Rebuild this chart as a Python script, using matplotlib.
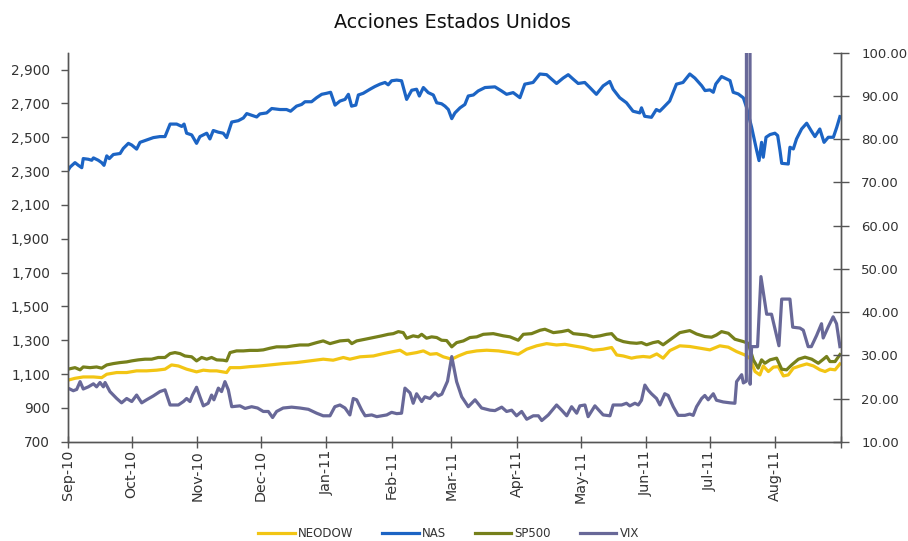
import numpy as np
import pandas as pd
import matplotlib
matplotlib.use("Agg")
import matplotlib.pyplot as plt
from matplotlib.ticker import FuncFormatter, FixedLocator, MultipleLocator

plt.rcParams['font.family'] = ['DejaVu Sans']

title = "Acciones Estados Unidos"
start_date = "2010-09-01"
end_date = "2011-09-01"
left_ticks = [700, 900, 1100, 1300, 1500, 1700, 1900, 2100, 2300, 2500, 2700, 2900]

# day offsets from start_date and values
nas_days = [0, 1, 3.3, 4.9, 6.5, 7.2, 9.6, 11.2, 12, 14.3, 15.9, 17, 18.3, 19.5, 21.4, 24.6, 26.1, 28.5, 30.1, 32.4,
            34, 37.1, 40.3, 43.4, 45.8, 48.2, 51.3, 53.7, 54.8, 56, 58.4, 60.7, 62.3, 65.5, 67, 68.6, 71, 73.3, 74.9,
            77.3, 80.4, 82.8, 84.4, 86.7, 89.1, 90.6, 93.8, 96.2, 100.1, 103.2, 105.1, 107.9, 110.3, 111.9, 115,
            117.4, 119.8, 122.1, 124, 126.1, 128.4, 130.8, 132.4, 133.9, 135.9, 137.1, 139.4, 142.6, 144.9, 147.3,
            149.7, 151.2, 152.8, 155.2, 157.5, 159.9, 162.3, 164.6, 165.9, 167.8, 170.1, 172.5, 174.1, 176.4, 178,
            179.6, 181.2, 182.7, 185.1, 187.4, 189, 191.4, 193.7, 196.9, 201.6, 204.7, 207.1, 210.2, 213.4, 215.7,
            219.6, 222.8, 226, 228.3, 230.7, 233.8, 236.2, 238.5, 240.9, 244, 246.4, 249.5, 252.7, 255.8, 257.4,
            260.5, 263.7, 266.8, 270, 270.8, 272.3, 275.5, 277.8, 279.4, 281, 284.1, 287.3, 290.4, 293.6, 296,
            299.2, 300.8, 303.1, 304.7, 305.9, 308.6, 311, 312.6, 314.1, 316.5, 318.9, 320.4, 322.8, 325.2, 326.3,
            327.5, 328.3, 329.6, 331.5, 333.8, 335.1, 336.2, 337, 340.1, 340.9, 342.5, 344, 346.4, 348.8, 351.1,
            352.7, 355, 357, 359, 361.4, 363, 364.5]
nas = [2304, 2324, 2350, 2334, 2320, 2374, 2370, 2364, 2378, 2364, 2350, 2334, 2390, 2374, 2398, 2404, 2434, 2464,
       2454, 2430, 2470, 2484, 2498, 2504, 2504, 2578, 2578, 2564, 2578, 2524, 2514, 2464, 2504, 2524, 2490, 2540,
       2530, 2524, 2498, 2590, 2598, 2614, 2640, 2630, 2620, 2638, 2644, 2670, 2664, 2664, 2654, 2684, 2694, 2710,
       2710, 2734, 2754, 2760, 2766, 2690, 2714, 2724, 2754, 2684, 2690, 2750, 2760, 2784, 2800, 2814, 2824, 2810,
       2834, 2838, 2834, 2724, 2778, 2784, 2744, 2794, 2764, 2750, 2704, 2698, 2684, 2664, 2610, 2644, 2674, 2694,
       2744, 2750, 2774, 2794, 2798, 2774, 2754, 2764, 2734, 2814, 2824, 2874, 2870, 2844, 2818, 2850, 2870, 2844,
       2818, 2824, 2794, 2754, 2804, 2830, 2784, 2734, 2704, 2654, 2644, 2674, 2624, 2618, 2664, 2654, 2674, 2714,
       2814, 2824, 2874, 2850, 2805, 2776, 2780, 2766, 2815, 2859, 2845, 2835, 2766, 2756, 2733, 2677, 2559, 2421,
       2362, 2470, 2382, 2500, 2516, 2524, 2510, 2421, 2346, 2342, 2441, 2431, 2490, 2549, 2583, 2535, 2504, 2549,
       2470, 2500, 2500, 2559, 2622]

neodow_days = [0, 3.3, 7.2, 12, 15.9, 18.3, 23, 27.7, 32.4, 37.1, 41.9, 45.8, 48.9, 52.1, 56, 60.7, 63.9, 67, 70.2,
               74.9, 76.5, 81.2, 85.9, 90.6, 95.4, 101.6, 107.9, 114.2, 120.5, 125.2, 130, 133.1, 137.9, 144.2,
               148.9, 153.6, 156.8, 159.9, 164.6, 167.8, 171, 174.1, 177.2, 181.2, 184.3, 188.3, 193, 197.7, 203.3,
               208.7, 212.6, 216.6, 221.3, 226, 230.7, 234.6, 238.6, 243.3, 248, 252.7, 256.7, 259.1, 262.2, 266.1,
               268.5, 271.6, 274.8, 278, 281, 284.2, 288.9, 293.6, 298.4, 303.1, 307.8, 311.8, 315.7, 319.6, 322,
               324.4, 326.7, 328.3, 330.7, 333.1, 335.4, 337.8, 340.1, 342.5, 345.6, 348.8, 352, 355.1, 357.5, 359.8,
               362.2, 364.5]
neodow = [1064, 1075, 1083, 1083, 1079, 1099, 1109, 1109, 1119, 1119, 1123, 1129, 1154, 1148, 1129, 1113, 1123, 1119,
          1119, 1109, 1138, 1138, 1144, 1148, 1154, 1162, 1168, 1178, 1188, 1182, 1198, 1188, 1202, 1207, 1221, 1233,
          1241, 1217, 1227, 1237, 1217, 1221, 1202, 1188, 1207, 1227, 1237, 1241, 1237, 1227, 1217, 1247, 1267, 1280,
          1272, 1276, 1267, 1257, 1241, 1247, 1257, 1213, 1207, 1194, 1200, 1204, 1200, 1219, 1194, 1239, 1267, 1263,
          1253, 1243, 1267, 1259, 1233, 1213, 1194, 1115, 1095, 1148, 1115, 1141, 1144, 1089, 1095, 1135, 1148, 1160,
          1148, 1125, 1115, 1129, 1125, 1160]

sp500_days = [0, 3.3, 5.7, 7.2, 10.4, 13.5, 15.9, 18.3, 21.4, 24.6, 27.7, 30.1, 33.2, 36.4, 39.5, 42.6, 45.8, 48.2,
              50.5, 52.9, 55.2, 58.4, 60.7, 63.1, 65.5, 67.8, 70.2, 73.3, 74.9, 76.5, 79.6, 82.8, 85.9, 89.5, 92.2,
              95.4, 98.5, 103.2, 106.4, 109.5, 113.5, 117.4, 120.5, 123.7, 128.4, 132.4, 134, 136.3, 140.3, 144.2,
              148.1, 151.2, 153.6, 156, 158.3, 159.9, 163, 165.4, 167, 169.3, 171.7, 174.1, 176.4, 178.8, 181.2,
              183.5, 186.7, 189.8, 193, 196.1, 200.8, 205.6, 208.7, 212.6, 215, 218.9, 222.9, 225.2, 229.2, 233.1,
              236.2, 238.6, 241.7, 244.9, 248, 251.2, 254.3, 256.7, 259.1, 262.2, 265.4, 268.5, 270.8, 273.2, 276.3,
              278.7, 281, 284.2, 288.9, 293.6, 296.8, 300.7, 303.9, 306.2, 308.6, 311.8, 314.9, 318.9, 321.2, 323.6,
              325.9, 327.5, 329.1, 331.5, 334.6, 337, 339.3, 341.7, 344.9, 348, 351.2, 354.3, 356.7, 358.2, 359.8,
              362.2, 364.5]
sp500 = [1129, 1138, 1125, 1142, 1138, 1142, 1135, 1154, 1162, 1168, 1172, 1178, 1184, 1188, 1188, 1198, 1198, 1221,
         1227, 1221, 1207, 1202, 1178, 1198, 1188, 1198, 1184, 1182, 1178, 1227, 1237, 1237, 1240, 1240, 1243, 1253,
         1261, 1261, 1267, 1272, 1272, 1286, 1296, 1280, 1296, 1300, 1280, 1296, 1306, 1316, 1326, 1335, 1339, 1351,
         1345, 1312, 1326, 1320, 1335, 1312, 1320, 1316, 1300, 1298, 1261, 1286, 1296, 1316, 1320, 1335, 1339, 1326,
         1320, 1300, 1335, 1339, 1359, 1365, 1345, 1351, 1359, 1339, 1335, 1331, 1320, 1326, 1335, 1339, 1306, 1292,
         1285, 1282, 1286, 1273, 1286, 1292, 1273, 1302, 1345, 1357, 1337, 1322, 1318, 1331, 1351, 1341, 1306, 1292,
         1282, 1184, 1135, 1184, 1164, 1184, 1194, 1129, 1125, 1154, 1188, 1200, 1188, 1164, 1188, 1204, 1174, 1174,
         1215]

vix_days = [0, 2.5, 4.1, 5.7, 7.2, 9.6, 12, 13.5, 15.1, 16.7, 17.5, 19.8, 23, 25.3, 27.7, 30.1, 32.4, 34.8, 37.1,
            40.3, 43.4, 45.8, 48.2, 52.1, 54.5, 56, 57.6, 58.8, 60.7, 62.3, 63.9, 66.2, 67.8, 68.9, 71, 72.5, 74.1,
            75.7, 77.3, 81.2, 83.6, 86.7, 89.5, 92.2, 94.6, 96.6, 98.5, 101.6, 105.6, 109.5, 113.5, 117.4, 120.5,
            123.7, 126, 128.4, 130.8, 133.1, 134.7, 136.3, 138.7, 140.3, 143.4, 145.8, 148.1, 150.5, 152.8, 155.2,
            157.5, 159.1, 161.5, 163, 164.6, 167, 168.5, 170.9, 173.3, 174.8, 176.5, 179.2, 181.2, 183.5, 185.9,
            189, 192.2, 195.3, 199.3, 201.6, 204.8, 207.1, 209.5, 211.8, 214.2, 216.6, 219.7, 222.1, 223.7, 226.8,
            230.7, 233.1, 235.5, 237.8, 240.2, 241.7, 244.1, 245.6, 248.8, 252.7, 255.9, 257.4, 261.4, 263.7,
            265.3, 267.7, 269.3, 270.8, 272.4, 274, 275.5, 277.9, 279.5, 281.8, 283.4, 285.8, 288.1, 291.3, 293.6,
            295.2, 296.8, 299.2, 300.7, 302.3, 304.7, 306.2, 309.4, 312.6, 314.9, 315.7, 318.1, 318.9, 320.3,
            320.5, 321.9, 322.1, 322.8, 325.6, 327.2, 329.9, 332.2, 335.7, 337, 340.9, 342.2, 345.6, 347.2, 349.5,
            351, 353.5, 355.8, 356.6, 359, 361.3, 362.9, 364.5]
vix = [22.4, 21.8, 22.1, 23.9, 22.2, 22.7, 23.4, 22.7, 23.7, 22.7, 23.7, 21.6, 20.0, 19.0, 20.0, 19.3, 20.8, 19.0,
       19.7, 20.6, 21.6, 22.0, 18.5, 18.5, 19.3, 20.0, 19.3, 20.8, 22.6, 20.4, 18.3, 18.9, 20.8, 19.7, 22.4, 21.6,
       23.9, 22.0, 18.1, 18.3, 17.7, 18.1, 17.8, 17.0, 17.0, 15.6, 17.0, 17.8, 18.0, 17.8, 17.5, 16.6, 16.0, 16.0,
       18.1, 18.5, 17.8, 16.2, 20.0, 19.7, 17.3, 16.0, 16.2, 15.8, 16.0, 16.2, 16.8, 16.5, 16.6, 22.4, 21.3, 18.9,
       21.1, 19.3, 20.4, 20.0, 21.3, 20.6, 21.0, 24.0, 29.7, 23.9, 20.4, 18.1, 19.7, 17.8, 17.3, 17.2, 18.0, 17.0,
       17.3, 16.0, 17.0, 15.2, 16.0, 16.0, 14.9, 16.2, 18.5, 17.3, 16.0, 18.1, 16.6, 18.3, 18.5, 15.8, 18.3, 16.2,
       16.0, 18.5, 18.5, 18.9, 18.3, 18.9, 18.5, 19.6, 23.1, 21.9, 21.1, 20.0, 18.5, 21.1, 20.7, 18.1, 16.1, 16.1,
       16.4, 16.1, 18.1, 20.0, 20.7, 19.7, 21.1, 19.6, 19.2, 19.0, 18.9, 23.9, 25.5, 23.6, 24.0, 300.0, 300.0, 23.3,
       32.0, 32.0, 48.2, 39.5, 39.5, 32.2, 43.0, 43.0, 36.5, 36.3, 35.8, 32.0, 32.0, 34.6, 37.3, 34.0, 36.6, 38.9,
       37.3, 32.0]

series_names = ["NEODOW", "NAS", "SP500", "VIX"]
colors = {"NEODOW": "#F2C514", "NAS": "#1C64C4", "SP500": "#76801B", "VIX": "#686898"}

t0 = pd.Timestamp(start_date)
def to_dates(days):
    return t0 + pd.to_timedelta(np.asarray(days, dtype=float), unit="D")

fig = plt.figure(figsize=(9.08, 5.41), dpi=100)
ax = fig.add_axes([0.0749, 0.1835, 0.8513, 0.7191])
ax2 = ax.twinx()

lw = 2.3
l1, = ax.plot(to_dates(neodow_days), neodow, color=colors["NEODOW"], lw=lw, solid_joinstyle="round")
l2, = ax.plot(to_dates(nas_days), nas, color=colors["NAS"], lw=lw, solid_joinstyle="round")
l3, = ax.plot(to_dates(sp500_days), sp500, color=colors["SP500"], lw=lw, solid_joinstyle="round")
l4, = ax2.plot(to_dates(vix_days), vix, color=colors["VIX"], lw=lw, solid_joinstyle="round")

ax.set_xlim(pd.Timestamp(start_date), pd.Timestamp(end_date))
ax.set_ylim(700, 3000)
ax2.set_ylim(10, 100)

txt = "#333333"
spc = "#555555"
ax.yaxis.set_major_locator(FixedLocator(left_ticks))
ax.yaxis.set_major_formatter(FuncFormatter(lambda v, p: f"{v:,.0f}"))
ax2.yaxis.set_major_locator(MultipleLocator(10))
ax2.yaxis.set_major_formatter(FuncFormatter(lambda v, p: f"{v:.2f}"))

month_ticks = pd.date_range(start_date, end_date, freq="MS")
ax.set_xticks(month_ticks)
ax.set_xticklabels([d.strftime("%b-%y") if d < pd.Timestamp(end_date) else "" for d in month_ticks],
                   rotation=90, fontsize=10.3, color=txt)

for a in (ax, ax2):
    a.spines["top"].set_visible(False)
    for s in ("left", "right", "bottom"):
        a.spines[s].set_color(spc)
        a.spines[s].set_linewidth(1.0)

ax.tick_params(axis="y", direction="out", length=5, width=1, color=spc, labelsize=9.8, labelcolor=txt, pad=8)
ax.tick_params(axis="x", direction="inout", length=8, width=1, color=spc, pad=2)
ax2.tick_params(axis="y", direction="inout", length=11, width=1, color=spc, labelsize=9.5, labelcolor=txt, pad=9)

fig.text(0.498, 0.959, title, ha="center", va="center", fontsize=13.8, color="#111111")

fig.legend([l1, l2, l3, l4], series_names, loc="center", bbox_to_anchor=(0.494, 0.013), ncol=4,
           frameon=False, fontsize=8.5, handlelength=3.1, handletextpad=0.3, columnspacing=2.4,
           labelcolor=txt)

fig.savefig("out.png", dpi=100)
